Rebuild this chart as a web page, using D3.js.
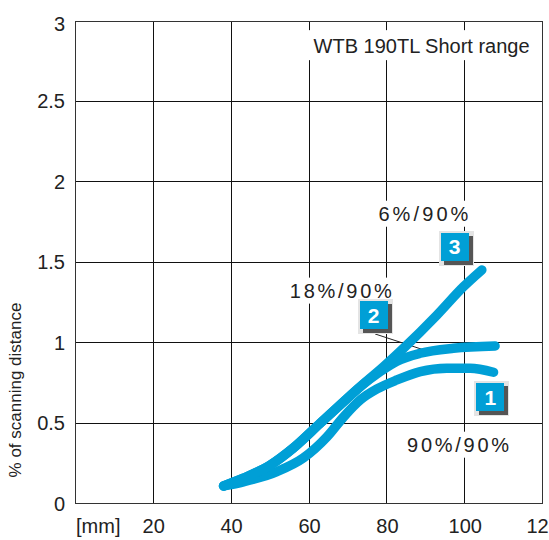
<!DOCTYPE html>
<html><head><meta charset="utf-8">
<script src="https://cdn.jsdelivr.net/npm/d3@7"></script>
<style>html,body{margin:0;padding:0;background:#fff;}svg{display:block;}</style>
</head><body>
<script>
// ---- data ----
const xTicks = [20, 40, 60, 80, 100, 120];
const yTicks = [0, 0.5, 1, 1.5, 2, 2.5, 3];
const yTickLabels = ["0", "0.5", "1", "1.5", "2", "2.5", "3"];
const xUnitLabel = "[mm]";
const yTitle = "% of scanning distance";
const chartTitle = "WTB 190TL Short range";

const curve1X = [38.2, 43.3, 51.9, 58.7, 64.7, 69.0, 73.3, 77.6, 82.7, 88.7, 95.5, 101.5, 107.5];
const curve1Y = [0.106, 0.132, 0.195, 0.280, 0.410, 0.535, 0.641, 0.709, 0.765, 0.817, 0.838, 0.838, 0.813];
const curve2X = [38.2, 43.3, 50.2, 56.1, 63.0, 68.1, 73.3, 78.4, 82.7, 88.7, 97.2, 107.9];
const curve2Y = [0.106, 0.154, 0.236, 0.342, 0.496, 0.609, 0.723, 0.817, 0.882, 0.931, 0.962, 0.976];
const curve3X = [38.2, 43.3, 50.2, 56.1, 63.0, 68.1, 73.3, 79.3, 84.4, 93.0, 99.8, 104.5];
const curve3Y = [0.106, 0.154, 0.236, 0.342, 0.496, 0.609, 0.723, 0.848, 0.962, 1.169, 1.345, 1.449];

const curveLabels = ["90%/90%", "18%/90%", "6%/90%"];
const curveLabelX = [98.4, 68.3, 89.5];
const curveLabelY = [0.319, 1.277, 1.755];
const badgeNums = ["1", "2", "3"];
const badgeX = [106.7, 76.7, 97.5];
const badgeY = [0.656, 1.166, 1.592];
const leaderX = [77.1, 92.0];
const leaderY = [1.051, 0.933];
const titleX = 61.3, titleY = 2.797;

// ---- drawing ----
const W = 549, H = 540;
const blue = "#009fd6";
const font = "'Liberation Sans', Arial, sans-serif";
const svg = d3.select("body").append("svg").attr("width", W).attr("height", H)
  .style("font-family", font);

const x = d3.scaleLinear().domain([0, 120]).range([74.8, 542.2]);
const y = d3.scaleLinear().domain([0, 3]).range([503, 20.5]);

// grid
const g = svg.append("g").attr("shape-rendering", "crispEdges");
g.selectAll(".vg").data(xTicks.filter(d => d < 120)).join("line")
  .attr("x1", d => Math.round(x(d)) + 0.5).attr("x2", d => Math.round(x(d)) + 0.5)
  .attr("y1", y(3)).attr("y2", y(0)).attr("stroke", "#111").attr("stroke-width", 1);
g.selectAll(".hg").data(yTicks.filter(d => d > 0 && d < 3)).join("line")
  .attr("x1", x(0)).attr("x2", x(120))
  .attr("y1", d => Math.round(y(d)) + 0.5).attr("y2", d => Math.round(y(d)) + 0.5)
  .attr("stroke", "#111").attr("stroke-width", 1);
// frame
g.append("rect").attr("x", Math.round(x(0)) + 0.5).attr("y", Math.round(y(3)) + 0.5)
  .attr("width", Math.round(x(120)) - Math.round(x(0)))
  .attr("height", Math.round(y(0)) - Math.round(y(3)))
  .attr("fill", "none").attr("stroke", "#333").attr("stroke-width", 1.5);

// title with white background
svg.append("rect").attr("x", x(titleX) - 9).attr("y", y(titleY) - 23)
  .attr("width", x(120) - x(titleX) + 8).attr("height", 30).attr("fill", "#fff");
svg.append("text").attr("x", x(titleX)).attr("y", y(titleY))
  .attr("font-size", 20).attr("fill", "#222").text(chartTitle);

// curve labels with white background
curveLabels.forEach((t, i) => {
  const cx = x(curveLabelX[i]), by = y(curveLabelY[i]);
  svg.append("rect").attr("x", cx - 54).attr("y", by - 20).attr("width", 108).attr("height", 26)
    .attr("fill", "#fff");
  svg.append("text").attr("x", cx).attr("y", by).attr("text-anchor", "middle")
    .attr("font-size", 20).attr("fill", "#222")
    .attr("textLength", t.length === 6 ? 90 : 102).attr("lengthAdjust", "spacing").text(t);
});

// leader line
svg.append("line").attr("x1", x(leaderX[0])).attr("y1", y(leaderY[0]))
  .attr("x2", x(leaderX[1])).attr("y2", y(leaderY[1]))
  .attr("stroke", "#222").attr("stroke-width", 1);

// curves
const line = d3.line().x(d => x(d[0])).y(d => y(d[1])).curve(d3.curveMonotoneX);
const curves = [[curve1X, curve1Y], [curve2X, curve2Y], [curve3X, curve3Y]];
svg.selectAll(".curve").data(curves).join("path")
  .attr("d", c => line(c[0].map((v, i) => [v, c[1][i]])))
  .attr("fill", "none").attr("stroke", blue).attr("stroke-width", 9.5)
  .attr("stroke-linecap", "round").attr("stroke-linejoin", "round");

// badges
badgeNums.forEach((n, i) => {
  const cx = x(badgeX[i]), cy = y(badgeY[i]);
  const s = 28;
  const bg = svg.append("g").attr("shape-rendering", "crispEdges");
  bg.append("rect").attr("x", cx - s / 2 - 2).attr("y", cy - s / 2 - 2).attr("width", s + 7).attr("height", s + 7).attr("fill", "#e4e4e4");
  bg.append("rect").attr("x", cx - s / 2 + 3).attr("y", cy - s / 2 + 3).attr("width", s + 1).attr("height", s + 1).attr("fill", "#555");
  bg.append("rect").attr("x", cx - s / 2).attr("y", cy - s / 2).attr("width", s).attr("height", s).attr("fill", blue);
  svg.append("text").attr("x", cx).attr("y", cy + 7.5).attr("text-anchor", "middle")
    .attr("font-size", 21).attr("font-weight", "bold").attr("fill", "#fff").text(n);
});

// y tick labels
svg.selectAll(".yl").data(yTicks).join("text")
  .attr("x", 65).attr("y", (d, i) => Math.max(y(d) + 7.5, 31))
  .attr("text-anchor", "end").attr("font-size", 20).attr("fill", "#222")
  .text((d, i) => yTickLabels[i]);
// x tick labels
svg.selectAll(".xl").data(xTicks).join("text")
  .attr("x", d => x(d) + 1).attr("y", 533).attr("text-anchor", "middle")
  .attr("font-size", 20).attr("fill", "#222").text(d => d);
svg.append("text").attr("x", 76).attr("y", 533).attr("font-size", 20).attr("fill", "#222").text(xUnitLabel);
// y title
svg.append("text").attr("transform", "translate(21," + 390 + ") rotate(-90)")
  .attr("text-anchor", "middle").attr("font-size", 17).attr("fill", "#222").text(yTitle);
</script>
</body></html>
